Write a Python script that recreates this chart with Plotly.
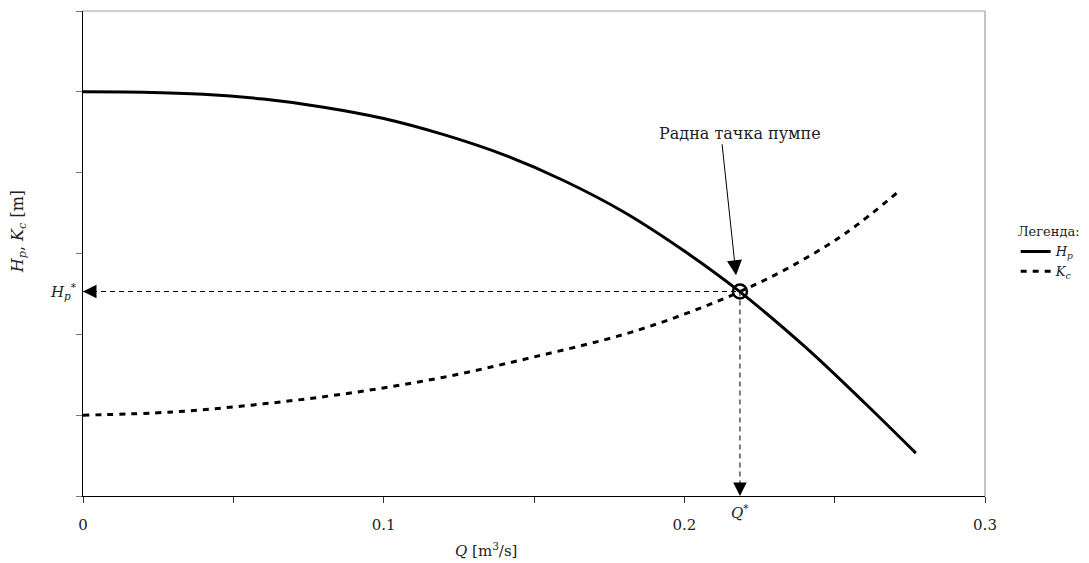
import plotly.graph_objects as go

# ---- data ----
q_pump = [0.0, 0.02, 0.04, 0.06, 0.08, 0.10, 0.12, 0.14, 0.16, 0.18, 0.20, 0.218, 0.24, 0.26, 0.277]
h_pump = [50.0, 49.95, 49.7, 49.1, 48.1, 46.7, 44.7, 42.2, 39.0, 35.1, 30.3, 25.4, 18.5, 11.5, 5.3]

q_sys = [0.0, 0.03, 0.06, 0.09, 0.12, 0.15, 0.18, 0.20, 0.218, 0.235, 0.254, 0.272]
k_sys = [10.0, 10.4, 11.4, 12.8, 14.7, 17.2, 20.0, 22.5, 25.2, 28.3, 32.6, 37.9]

q_star = 0.2185
h_star = 25.3

x_tickvals = [0, 0.05, 0.1, 0.15, 0.2, 0.25, 0.3]
x_ticktext = ["0", "", "0.1", "", "0.2", "", "0.3"]
y_tickvals = [0, 10, 20, 30, 40, 50, 60]

FONT = "DejaVu Serif"
TXT = "#222"

fig = go.Figure()

# guide lines
fig.add_trace(go.Scatter(x=[0, q_star], y=[h_star, h_star], mode="lines",
                         line=dict(color="black", width=1, dash="5px,4px"),
                         showlegend=False, hoverinfo="skip", cliponaxis=False))
fig.add_trace(go.Scatter(x=[q_star, q_star], y=[h_star, 0], mode="lines",
                         line=dict(color="black", width=1, dash="5px,4px"),
                         showlegend=False, hoverinfo="skip", cliponaxis=False))

fig.add_trace(go.Scatter(x=q_pump, y=h_pump, mode="lines", name="<i>H</i><sub><i>p</i></sub>",
                         line=dict(color="black", width=3, shape="spline", smoothing=1)))
fig.add_trace(go.Scatter(x=q_sys, y=k_sys, mode="lines", name="<i>K</i><sub><i>c</i></sub>",
                         line=dict(color="black", width=3, dash="6px,6px", shape="spline",
                                   smoothing=1)))

# operating point
fig.add_trace(go.Scatter(x=[q_star], y=[h_star], mode="markers", showlegend=False,
                         marker=dict(symbol="circle-open", size=14, color="black",
                                     line=dict(width=2.5, color="black")),
                         hoverinfo="skip"))

# arrowheads of guide lines
fig.add_annotation(x=0, y=h_star, ax=0.003, ay=h_star, axref="x", ayref="y",
                   xref="x", yref="y", text="", showarrow=True, arrowhead=2,
                   arrowsize=1.8, arrowwidth=1.5, arrowcolor="black", standoff=0)
fig.add_annotation(x=q_star, y=0, ax=q_star, ay=1.6, axref="x", ayref="y",
                   xref="x", yref="y", text="", showarrow=True, arrowhead=2,
                   arrowsize=1.8, arrowwidth=1.5, arrowcolor="black", standoff=0)

# main pointer
fig.add_annotation(x=0.2172, y=27.3, ax=0.2125, ay=43.7, axref="x", ayref="y",
                   xref="x", yref="y", text="", showarrow=True, arrowhead=2,
                   arrowsize=3, arrowwidth=1, arrowcolor="black", standoff=0)
fig.add_annotation(x=0.2185, y=44.9, xref="x", yref="y", text="Радна тачка пумпе",
                   showarrow=False, font=dict(family=FONT, size=16, color=TXT))

# labels H*, Q*
fig.add_annotation(x=0, y=h_star, xref="x", yref="y", xanchor="right", xshift=-4,
                   text="<i>H</i><sub><i>p</i></sub><sup>*</sup>", showarrow=False,
                   font=dict(family=FONT, size=15, color=TXT))
fig.add_annotation(x=q_star, y=0, xref="x", yref="y", yanchor="top", yshift=-4,
                   text="<i>Q</i><sup>*</sup>", showarrow=False,
                   font=dict(family=FONT, size=15, color=TXT))

# axis titles
fig.add_annotation(x=0.4466, y=-0.111, xref="paper", yref="paper",
                   xanchor="center", yanchor="middle",
                   text="<i>Q</i> [m<sup>3</sup>/s]", showarrow=False,
                   font=dict(family=FONT, size=15, color=TXT))
fig.add_annotation(x=-0.072, y=0.544, xref="paper", yref="paper", textangle=-90,
                   xanchor="center", yanchor="middle",
                   text="<i>H</i><sub><i>p</i></sub>, <i>K</i><sub><i>c</i></sub> [m]",
                   showarrow=False, font=dict(family=FONT, size=16, color=TXT))

# top and right frame lines (grey)
fig.add_shape(type="line", xref="paper", yref="paper", x0=0, x1=1, y0=1, y1=1,
              line=dict(color="#a89c98", width=1.2))
fig.add_shape(type="line", xref="paper", yref="paper", x0=1, x1=1, y0=0, y1=1,
              line=dict(color="#a89c98", width=1.2))

fig.update_xaxes(range=[0, 0.3], tickvals=x_tickvals, ticktext=x_ticktext,
                 showgrid=False, zeroline=False, showline=True, linecolor="black", linewidth=1.2,
                 ticks="outside", ticklen=6, tickcolor="#333", tickwidth=1,
                 ticklabelstandoff=9,
                 tickfont=dict(family=FONT, size=15, color=TXT))
fig.update_yaxes(range=[0, 60], tickvals=y_tickvals, showticklabels=False,
                 showgrid=False, zeroline=False, showline=True, linecolor="black", linewidth=1.2,
                 ticks="outside", ticklen=6, tickcolor="#777", tickwidth=1)

fig.update_layout(
    width=1081, height=555,
    margin=dict(l=75, r=104, t=3, b=67, autoexpand=False),
    plot_bgcolor="white", paper_bgcolor="white",
    font=dict(family=FONT, size=13, color=TXT),
    legend=dict(title=dict(text="Легенда:", font=dict(family=FONT, size=13)),
                x=1.034, y=0.57, xanchor="left", yanchor="top",
                font=dict(family=FONT, size=13), itemwidth=30,
                bgcolor="rgba(0,0,0,0)", tracegroupgap=0),
)

fig.write_html("out.html")
